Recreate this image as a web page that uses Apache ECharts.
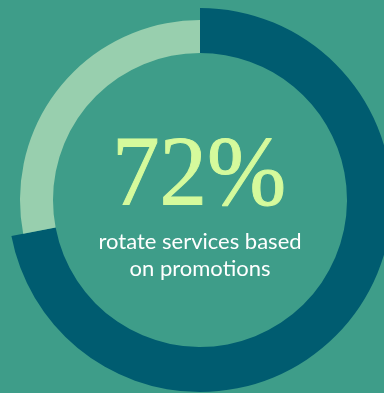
<!DOCTYPE html>
<html>
<head>
<meta charset="utf-8">
<script src="https://cdn.jsdelivr.net/npm/echarts@6/dist/echarts.min.js"></script>
<style>
  html, body { margin: 0; padding: 0; background: #3e9d89; }
  #chart { width: 384px; height: 393px; }
</style>
</head>
<body>
<div id="chart"></div>
<script>
// Share of respondents
const shareLabels = ['Rotate services based on promotions', 'Other'];
const shareValues = [72, 28];
const headline = '72%';
const caption = ['rotate services based', 'on promotions'];

const BG = '#3e9d89';
const DARK = '#005c70';
const LIGHT = '#98cfae';

const chart = echarts.init(document.getElementById('chart'), null, { renderer: 'canvas' });

const ringBase = {
  type: 'pie',
  center: [200, 200],
  startAngle: 90,
  clockwise: true,
  silent: true,
  label: { show: false },
  labelLine: { show: false },
  emphasis: { disabled: true },
  itemStyle: { borderWidth: 0 },
  animation: false
};

chart.setOption({
  backgroundColor: BG,
  series: [
    Object.assign({}, ringBase, {
      name: 'main',
      radius: [147, 192],
      data: [
        { name: shareLabels[0], value: shareValues[0], itemStyle: { color: DARK } },
        { name: shareLabels[1], value: shareValues[1], itemStyle: { color: 'rgba(0,0,0,0)' } }
      ]
    }),
    Object.assign({}, ringBase, {
      name: 'rest',
      radius: [147, 180],
      data: [
        { name: shareLabels[0], value: shareValues[0], itemStyle: { color: 'rgba(0,0,0,0)' } },
        { name: shareLabels[1], value: shareValues[1], itemStyle: { color: LIGHT } }
      ]
    })
  ],
  graphic: [
    {
      type: 'text',
      x: 199,
      y: 128,
      scaleX: 0.95,
      style: {
        text: headline,
        font: '100px "Liberation Serif", "Times New Roman", serif',
        fill: '#d5fa9c',
        textAlign: 'center',
        stroke: '#d5fa9c',
        lineWidth: 1
      }
    },
    {
      type: 'text',
      x: 200,
      y: 228,
      style: {
        text: caption.join('\n'),
        font: '22px Lato, "Noto Sans", sans-serif',
        lineHeight: 27,
        fill: '#ffffff',
        align: 'center',
        textAlign: 'center'
      }
    }
  ]
});
</script>
</body>
</html>
